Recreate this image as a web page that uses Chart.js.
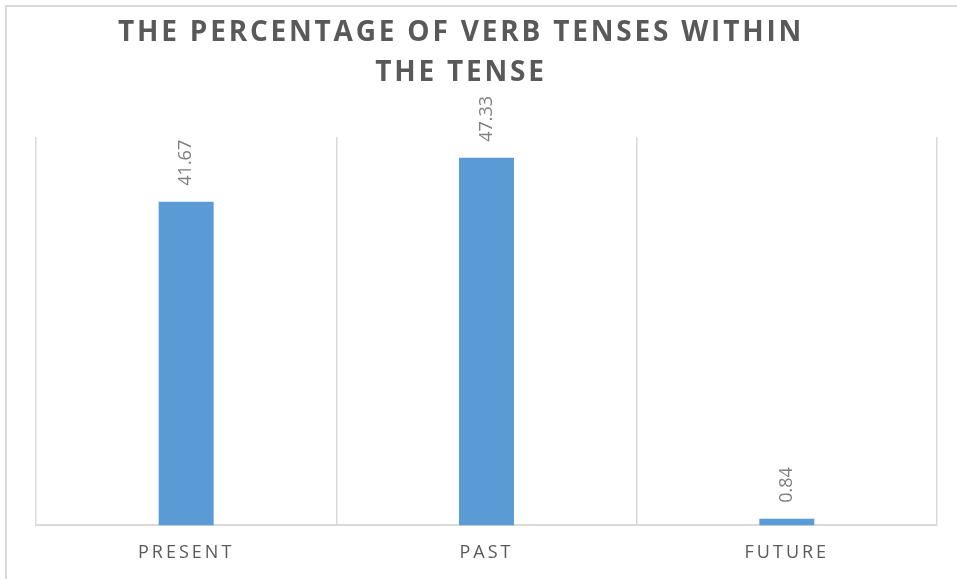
<!DOCTYPE html>
<html>
<head>
<meta charset="utf-8">
<script src="https://cdn.jsdelivr.net/npm/chart.js@4.4.1/dist/chart.umd.min.js"></script>
<style>
  html, body { margin: 0; padding: 0; background: #ffffff; }
  #wrap { position: relative; width: 957px; height: 579px; }
</style>
</head>
<body>
<div id="wrap"><canvas id="c" width="957" height="579"></canvas></div>
<script>
const titleLines = ['THE PERCENTAGE OF VERB TENSES WITHIN', 'THE TENSE'];
const categories = ['PRESENT', 'PAST', 'FUTURE'];
const values = [41.67, 47.33, 0.84];
const valueLabels = ['41.67', '47.33', '0.84'];

const GREY_TEXT = '#595959';
const LABEL_GREY = '#7f7f7f';
const LINE_GREY = '#d9d9d9';

const decor = {
  id: 'decor',
  beforeDraw(chart) {
    const ctx = chart.ctx;
    ctx.save();
    ctx.strokeStyle = LINE_GREY;
    ctx.lineWidth = 2;
    ctx.beginPath();
    ctx.moveTo(6, 579);
    ctx.lineTo(6, 6);
    ctx.lineTo(957, 6);
    ctx.stroke();
    ctx.letterSpacing = '2.8px';
    ctx.fillStyle = GREY_TEXT;
    ctx.font = 'bold 28px "Open Sans"';
    ctx.textAlign = 'center';
    ctx.textBaseline = 'alphabetic';
    ctx.fillText(titleLines[0], 461, 41);
    ctx.fillText(titleLines[1], 461, 81);
    ctx.restore();
    ctx.letterSpacing = '3px';
  },
  afterDatasetsDraw(chart) {
    const ctx = chart.ctx;
    ctx.save();
    ctx.letterSpacing = '0px';
    ctx.fillStyle = LABEL_GREY;
    ctx.font = '18px "Open Sans"';
    ctx.textAlign = 'left';
    ctx.textBaseline = 'middle';
    const meta = chart.getDatasetMeta(0);
    meta.data.forEach((bar, i) => {
      ctx.save();
      ctx.translate(bar.x, bar.y - 16);
      ctx.rotate(-Math.PI / 2);
      ctx.fillText(valueLabels[i], 0, 0);
      ctx.restore();
    });
    ctx.restore();
  },
  afterDraw(chart) {
    chart.ctx.letterSpacing = '0px';
  }
};

new Chart(document.getElementById('c'), {
  type: 'bar',
  data: {
    labels: categories,
    datasets: [{
      data: values,
      backgroundColor: '#5B9BD5',
      borderWidth: 0,
      barPercentage: 0.183,
      categoryPercentage: 1.0
    }]
  },
  options: {
    responsive: false,
    animation: false,
    devicePixelRatio: 1,
    layout: { padding: { left: 36, right: 20, top: 137, bottom: -2 } },
    plugins: {
      legend: { display: false },
      title: { display: false },
      tooltip: { enabled: false }
    },
    scales: {
      x: {
        offset: true,
        grid: {
          offset: true,
          color: LINE_GREY,
          lineWidth: 1.5,
          drawTicks: false
        },
        border: { display: true, color: LINE_GREY, width: 2 },
        ticks: {
          color: GREY_TEXT,
          font: { family: '"Open Sans"', size: 18 },
          padding: 17,
          maxRotation: 0
        }
      },
      y: {
        display: false,
        min: 0,
        max: 50
      }
    }
  },
  plugins: [decor]
});
</script>
</body>
</html>
